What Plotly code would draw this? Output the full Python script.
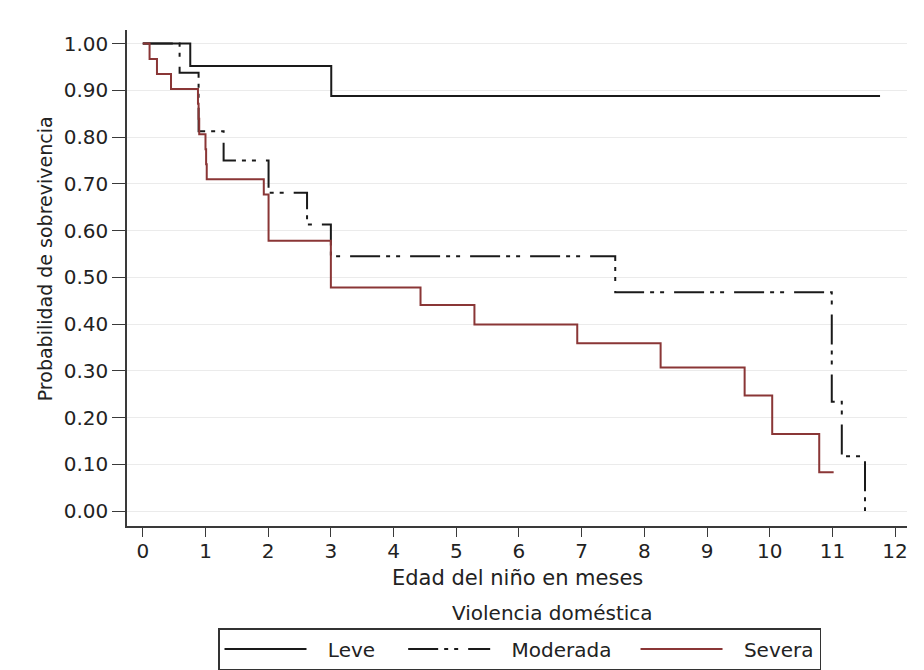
import plotly.graph_objects as go

# ---- data (Kaplan-Meier step curves) ----
leve_t = [0.0, 0.757, 3.006, 11.76]
leve_s = [1.000, 0.952, 0.888, 0.888]

moderada_t = [0.0, 0.587, 0.89, 1.289, 2.006, 2.62, 3.0, 7.536, 10.99, 11.15, 11.52]
moderada_s = [1.000, 0.9375, 0.8125, 0.750, 0.681, 0.613, 0.545, 0.468, 0.234, 0.117, 0.000]

severa_t = [0.0, 0.108, 0.226, 0.45, 0.88, 0.89, 0.90, 1.0, 1.01, 1.02, 1.93, 2.006,
            3.0, 4.43, 5.29, 6.93, 8.26, 9.6, 10.04, 10.79, 11.02]
severa_s = [1.000, 0.967, 0.935, 0.903, 0.871, 0.839, 0.806, 0.774, 0.742, 0.710, 0.677, 0.578,
            0.478, 0.441, 0.399, 0.359, 0.307, 0.247, 0.165, 0.083, 0.083]

series_names = ["Leve", "Moderada", "Severa"]
x_ticks = list(range(0, 13))
y_ticks = [0.0, 0.1, 0.2, 0.3, 0.4, 0.5, 0.6, 0.7, 0.8, 0.9, 1.0]
y_tick_labels = ["0.00", "0.10", "0.20", "0.30", "0.40", "0.50", "0.60", "0.70", "0.80", "0.90", "1.00"]

FONT = "DejaVu Sans, Liberation Sans, Arial, sans-serif"
AX = "#3a3a3a"
TXT = "#222"

NB = "\u2002\u00a0"  # visual gap between legend sample and label
legend_labels = [NB + series_names[0] + "\u00a0\u00a0\u00a0\u2009",
                 NB + series_names[1] + "\u00a0\u00a0\u00a0",
                 NB + series_names[2]]

fig = go.Figure()
fig.add_trace(go.Scatter(x=leve_t, y=leve_s, mode="lines", name=legend_labels[0],
                         line=dict(color="#1a1a1a", width=2, shape="hv")))
fig.add_trace(go.Scatter(x=moderada_t, y=moderada_s, mode="lines", name=legend_labels[1],
                         line=dict(color="#1a1a1a", width=2, shape="hv",
                                   dash="30px,6px,4px,6px,4px,10px")))
fig.add_trace(go.Scatter(x=severa_t, y=severa_s, mode="lines", name=legend_labels[2],
                         line=dict(color="#8a3636", width=2, shape="hv")))

fig.update_layout(
    width=924, height=670,
    margin=dict(l=127, r=17, t=30, b=144),
    paper_bgcolor="white", plot_bgcolor="white",
    font=dict(family=FONT, size=20, color=TXT),
    showlegend=True,
    legend=dict(orientation="h", x=(218 - 127) / 780, xanchor="left",
                yref="container", y=(670 - 628) / 670, yanchor="top",
                bordercolor="#333", borderwidth=1.5, bgcolor="white",
                itemwidth=82, tracegroupgap=0,
                font=dict(size=20, family=FONT, color=TXT)),
    xaxis=dict(range=[-0.252, 12.19], tickmode="array", tickvals=x_ticks,
               ticktext=[str(v) for v in x_ticks],
               showgrid=False, zeroline=False, showline=True, linecolor=AX, linewidth=1.5,
               ticks="outside", ticklen=9, tickwidth=1.2, tickcolor=AX,
               ticklabelstandoff=-3,
               tickfont=dict(size=20, family=FONT, color=TXT)),
    yaxis=dict(range=[-0.032, 1.029], tickmode="array", tickvals=y_ticks,
               ticktext=y_tick_labels,
               showgrid=True, gridcolor="#ebebeb", gridwidth=1,
               zeroline=False, showline=True, linecolor=AX, linewidth=1.5,
               ticks="outside", ticklen=13, tickwidth=1.2, tickcolor=AX,
               tickfont=dict(size=20, family=FONT, color=TXT)),
    annotations=[
        dict(text="Probabilidad de sobrevivencia", xref="paper", yref="paper",
             x=-0.105, y=0.538, xanchor="center", yanchor="middle", textangle=-90,
             showarrow=False, font=dict(size=19, family=FONT, color=TXT)),
        dict(text="Edad del niño en meses", xref="paper", yref="paper",
             x=0.5, y=(526 - 578) / 496, xanchor="center", yanchor="middle",
             showarrow=False, font=dict(size=21, family=FONT, color=TXT)),
        dict(text="Violencia doméstica", xref="paper", yref="paper",
             x=0.5455, y=-0.1754, xanchor="center", yanchor="middle",
             showarrow=False, font=dict(size=20, family=FONT, color=TXT)),
    ],
)

fig.write_html("out.html")
